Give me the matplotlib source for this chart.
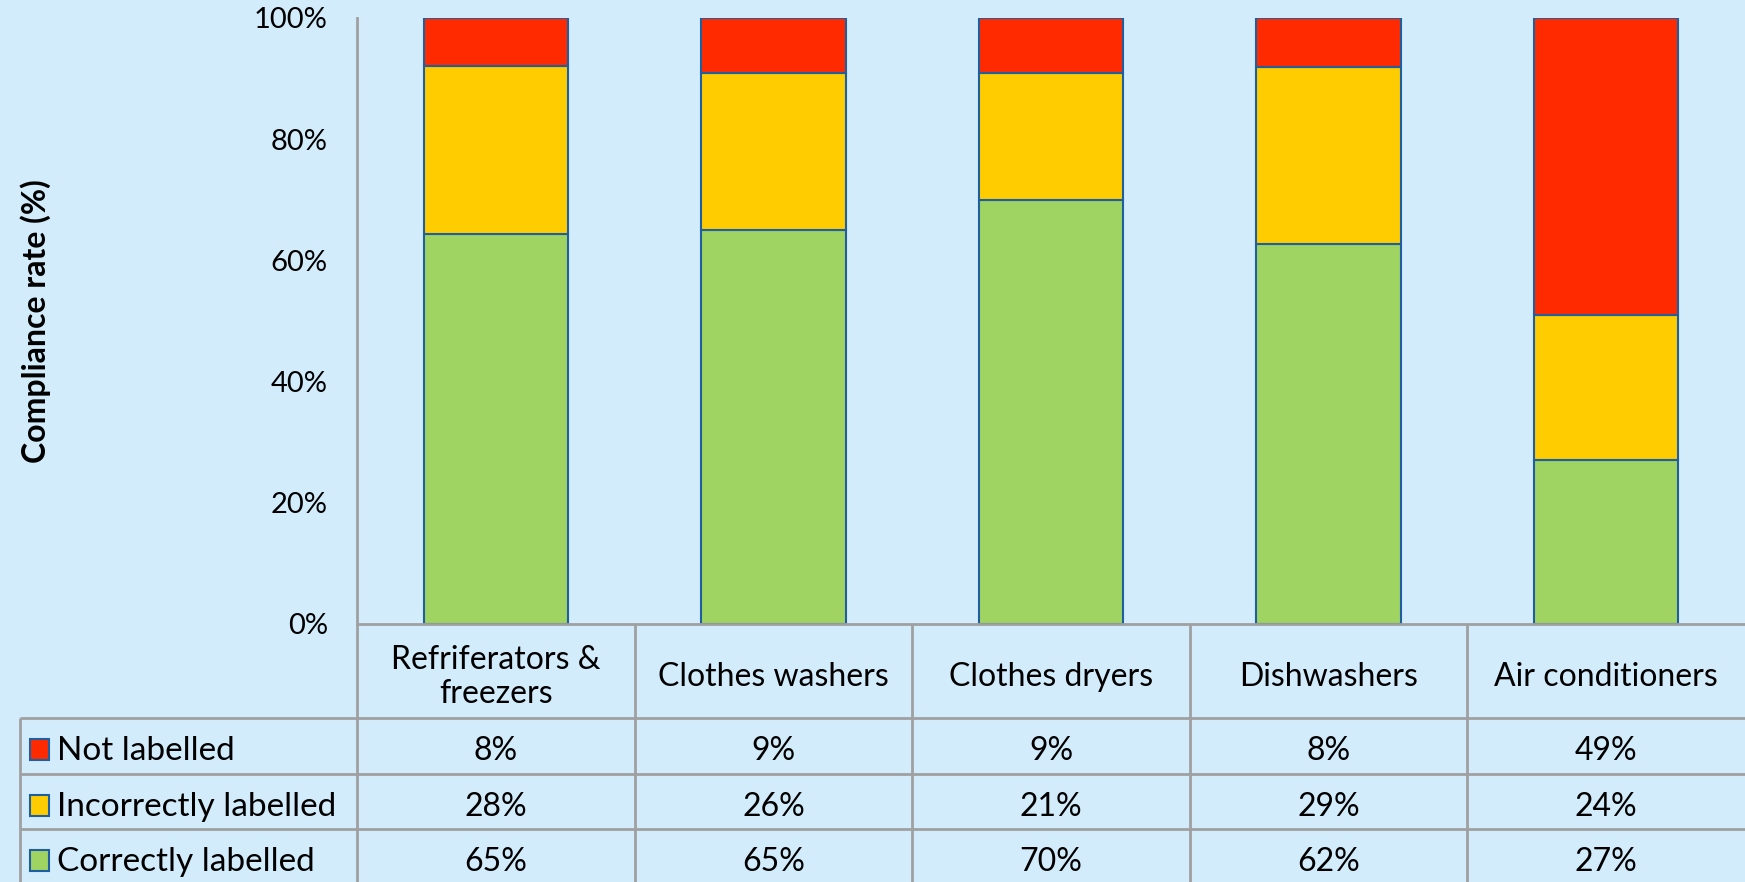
import numpy as np
import matplotlib
matplotlib.use("Agg")
import matplotlib.pyplot as plt

categories = ["Refriferators &\nfreezers", "Clothes washers", "Clothes dryers",
              "Dishwashers", "Air conditioners"]
series_names = ["Not labelled", "Incorrectly labelled", "Correctly labelled"]
not_labelled = [8, 9, 9, 8, 49]
incorrectly_labelled = [28, 26, 21, 29, 24]
correctly_labelled = [65, 65, 70, 62, 27]
yticks = [0, 0.2, 0.4, 0.6, 0.8, 1.0]
ytick_labels = ["0%", "20%", "40%", "60%", "80%", "100%"]

bg = "#D2ECFC"
c_red = "#FF2A00"
c_yellow = "#FFCC00"
c_green = "#A0D462"
edge = "#1F5FA0"
grid = "#A0A0A0"
plt.rcParams["font.family"] = ["Lato", "DejaVu Sans"]

W, H = 1745, 882
fig = plt.figure(figsize=(W / 100, H / 100), dpi=100, facecolor=bg)

# pixel layout
ax_left, ax_right, ax_top, ax_bottom = 357, 1745, 18, 624
tab_left = 20
row_lines = [624, 718, 774, 829, 882]

ax = fig.add_axes([ax_left / W, 1 - ax_bottom / H, (ax_right - ax_left) / W,
                   (ax_bottom - ax_top) / H])
ax.set_facecolor(bg)

corr = np.array(correctly_labelled, float)
inc = np.array(incorrectly_labelled, float)
notl = np.array(not_labelled, float)
tot = corr + inc + notl
x = np.arange(len(categories))
bw = 0.52
ax.bar(x, corr / tot, bw, color=c_green, edgecolor=edge, linewidth=1.5, zorder=3)
ax.bar(x, inc / tot, bw, bottom=corr / tot, color=c_yellow, edgecolor=edge,
       linewidth=1.5, zorder=3)
ax.bar(x, notl / tot, bw, bottom=(corr + inc) / tot, color=c_red, edgecolor=edge,
       linewidth=1.5, zorder=3)

ax.set_xlim(-0.5, len(categories) - 0.5)
ax.set_ylim(0, 1)
ax.set_yticks(yticks)
ax.set_yticklabels(ytick_labels, fontsize=21)
ax.tick_params(axis="y", length=0, pad=21)
ax.set_xticks([])
for s in ["top", "right", "bottom"]:
    ax.spines[s].set_visible(False)
ax.spines["left"].set_color(grid)
ax.spines["left"].set_linewidth(2)
fig.text(36 / W, 1 - 321 / H, "Compliance rate (%)", rotation=90, fontsize=23,
         fontweight="bold", ha="center", va="center")

# data table below the chart
tab = fig.add_axes([0, 0, 1, 1])
tab.set_xlim(0, W)
tab.set_ylim(H, 0)
tab.axis("off")
tab.patch.set_alpha(0)

col_w = (ax_right - ax_left) / len(categories)
col_x = [ax_left + col_w * i for i in range(len(categories) + 1)]
lk = dict(color=grid, lw=2, solid_capstyle="butt")
tab.plot([ax_left, W], [row_lines[0]] * 2, **lk)
for yl in row_lines[1:-1]:
    tab.plot([tab_left, W], [yl] * 2, **lk)
tab.plot([tab_left, tab_left], [row_lines[1], H], **lk)
for xc in col_x[:-1]:
    tab.plot([xc, xc], [row_lines[0], H], **lk)

for i, cat in enumerate(categories):
    cx = (col_x[i] + col_x[i + 1]) / 2
    tab.text(cx, (row_lines[0] + row_lines[1]) / 2 + 6, cat, ha="center",
             va="center", fontsize=23, linespacing=1.15)

rows = [(series_names[0], not_labelled, c_red),
        (series_names[1], incorrectly_labelled, c_yellow),
        (series_names[2], correctly_labelled, c_green)]
for r, (name, vals, col) in enumerate(rows):
    cy = row_lines[r + 1] + 33
    tab.add_patch(plt.Rectangle((30, cy - 12), 19, 21, facecolor=col,
                                edgecolor=edge, lw=1.5))
    tab.text(57, cy, name, ha="left", va="center", fontsize=24)
    for i, v in enumerate(vals):
        cx = (col_x[i] + col_x[i + 1]) / 2
        tab.text(cx, cy, f"{v}%", ha="center", va="center", fontsize=23)

fig.savefig("out.png", dpi=100, facecolor=bg)
